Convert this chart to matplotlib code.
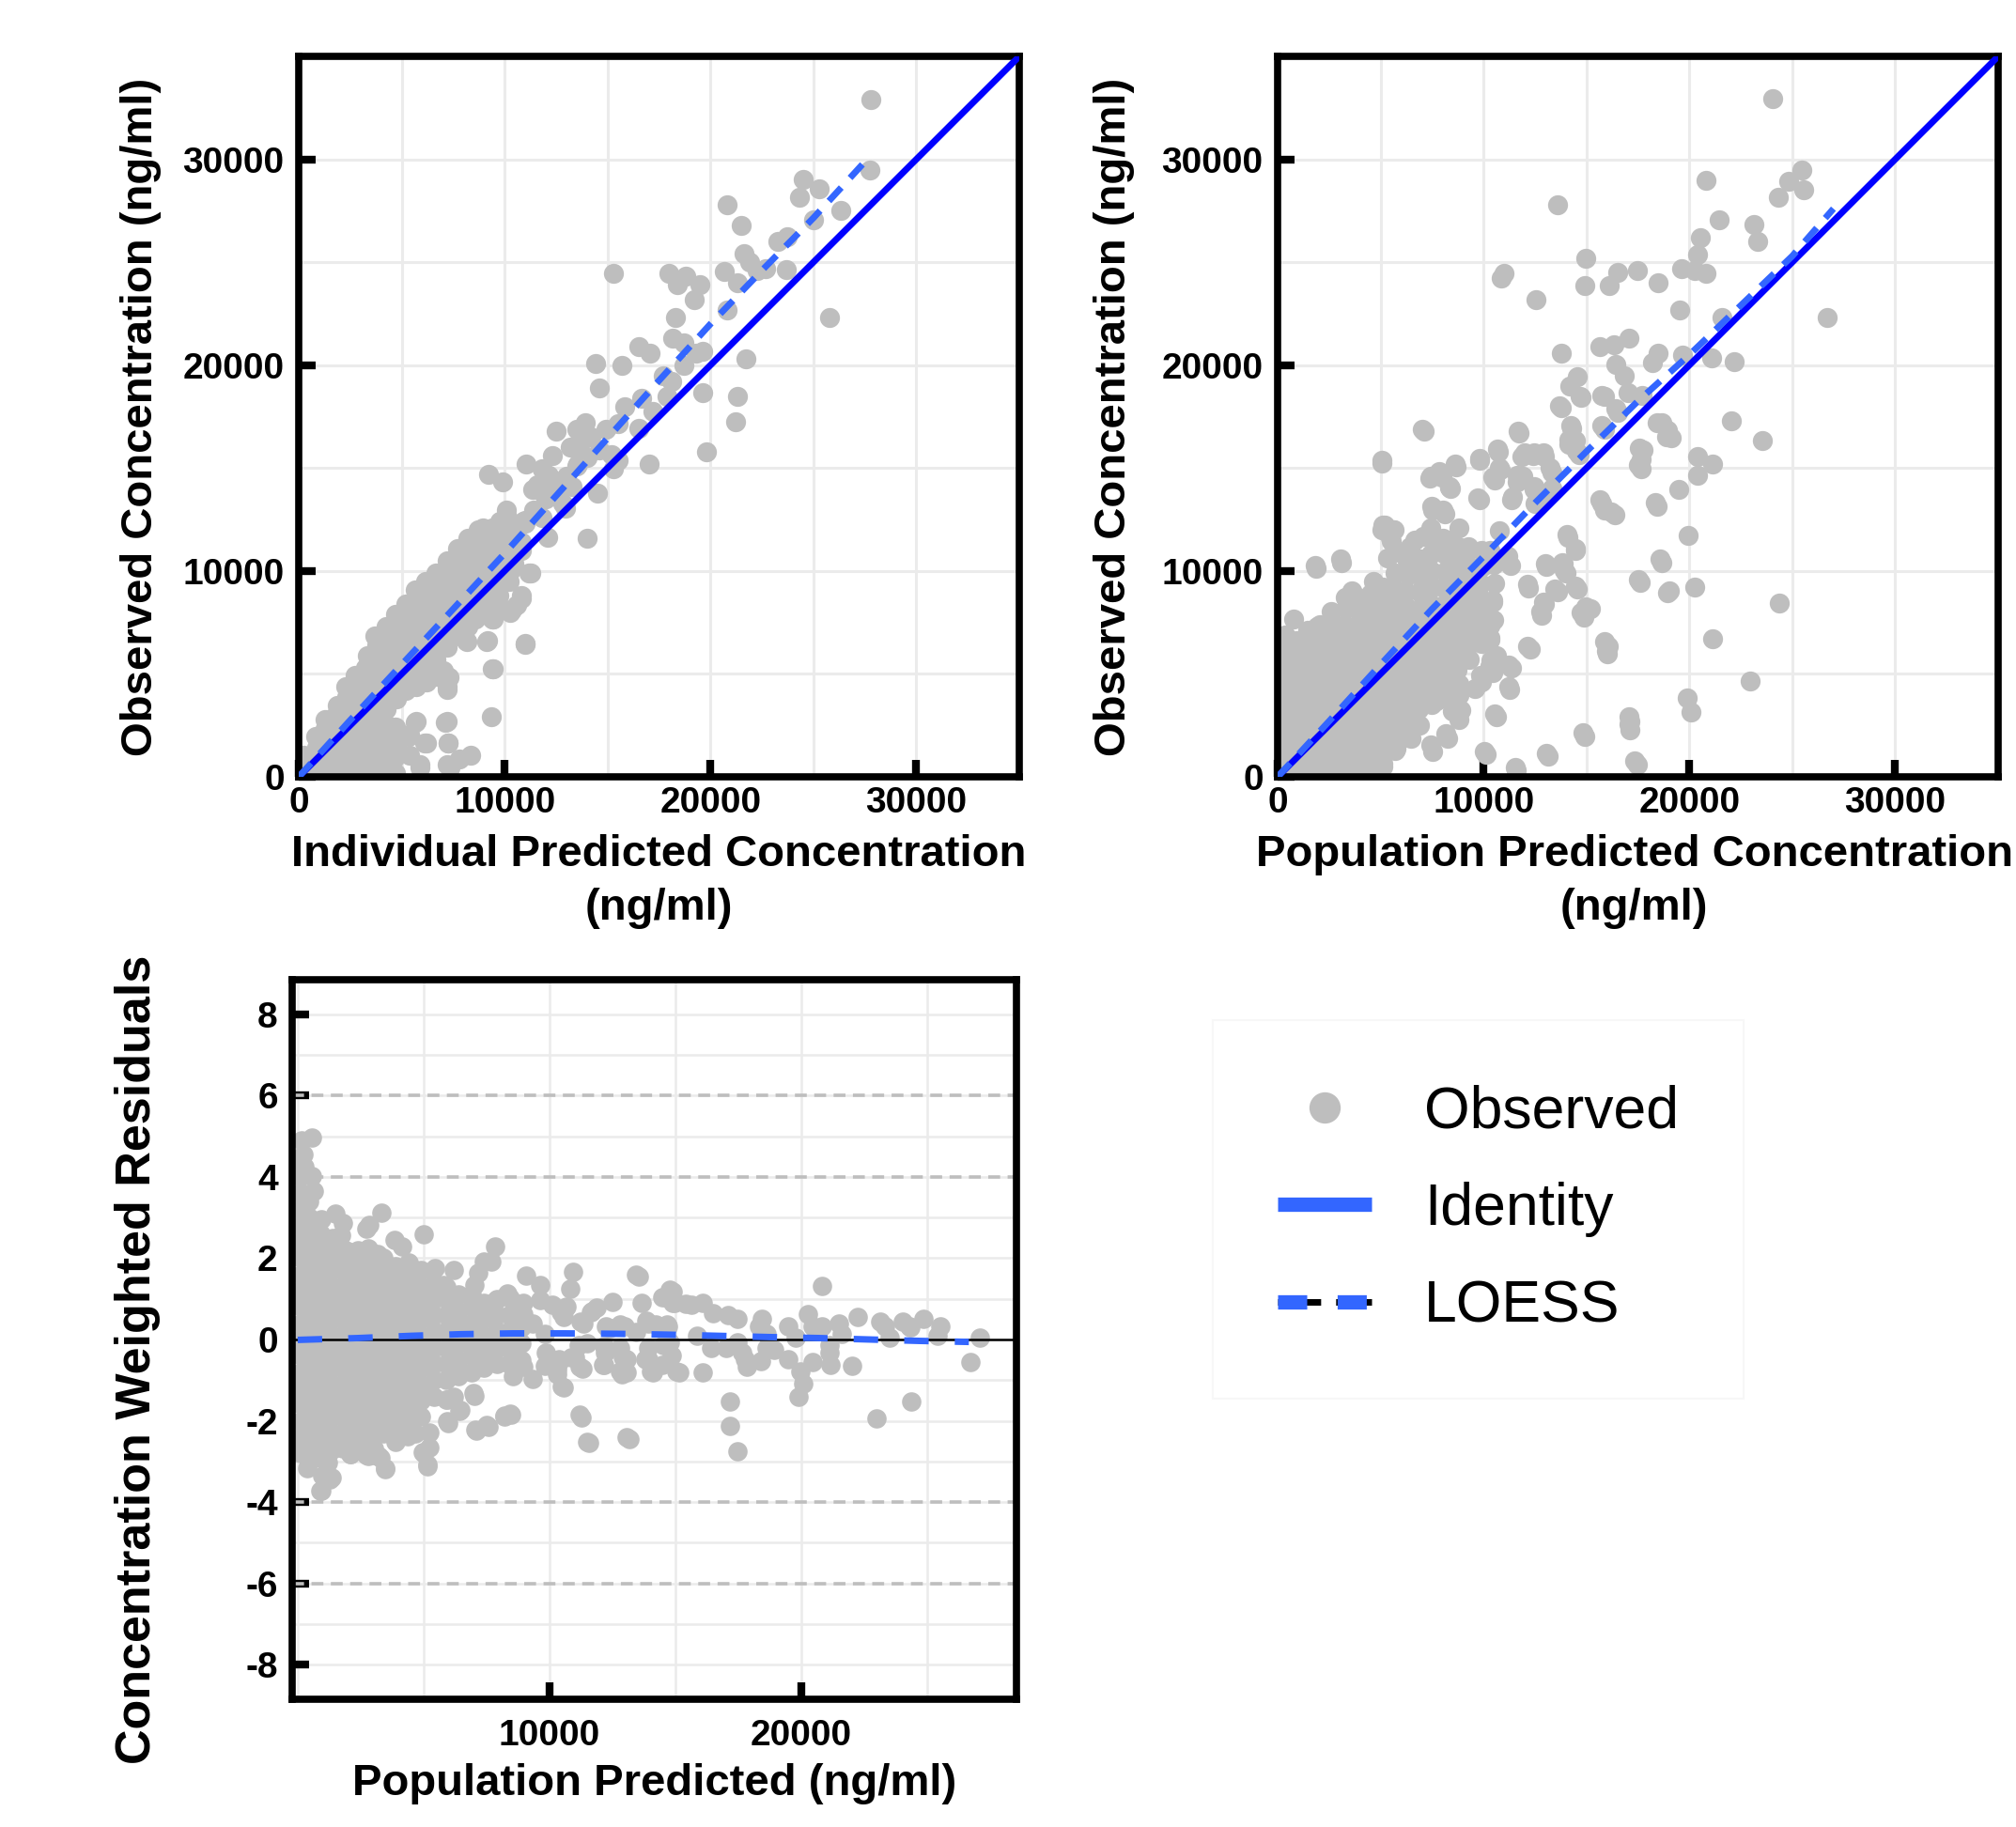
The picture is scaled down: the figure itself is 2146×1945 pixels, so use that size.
import matplotlib
matplotlib.use("Agg")
import matplotlib.pyplot as plt
from matplotlib.lines import Line2D
from matplotlib.legend_handler import HandlerTuple
from matplotlib.ticker import MultipleLocator

plt.rcParams['font.family'] = ['Liberation Sans', 'DejaVu Sans']
plt.rcParams['font.weight'] = 'bold'
plt.rcParams['axes.unicode_minus'] = False

# ---------------- data ----------------
axis_range = [0, 35000]
conc_ticks = [0, 10000, 20000, 30000]

# panel 1: observed vs individual predicted (dense band along the diagonal)
ipred_band = [
    (100, 300), (300, 100), (350, 600), (250, 1050),
    (800, 200), (750, 800), (850, 1400), (800, 1950),
    (1300, 300), (1250, 1000), (1350, 1700), (1300, 2350), (1300, 2800),
    (1800, 150), (1750, 800), (1850, 1500), (1800, 2200), (1750, 2900), (1850, 3450),
    (2300, 400), (2250, 1100), (2350, 1800), (2300, 2500), (2250, 3200), (2350, 3900), (2300, 4400),
    (2800, 150), (2750, 800), (2850, 1500), (2800, 2200), (2750, 2900), (2850, 3600), (2800, 4300), (2750, 4950),
    (3300, 400), (3250, 1100), (3350, 1800), (3300, 2500), (3250, 3200), (3350, 3900), (3300, 4600), (3250, 5300), (3350, 5900),
    (3800, 150), (3750, 800), (3850, 1500), (3800, 2200), (3750, 2900), (3850, 3600), (3800, 4300), (3750, 5000), (3850, 5700), (3800, 6400), (3700, 6850),
    (4300, 400), (4250, 1100), (4350, 1800), (4300, 2500), (4250, 3300), (4350, 4000), (4300, 4700), (4250, 5400), (4350, 6100), (4300, 6800), (4250, 7300),
    (4700, 200), (4650, 900), (4750, 1600), (4700, 2400), (4750, 3800), (4650, 4500), (4750, 5200), (4700, 5900), (4650, 6600), (4750, 7300), (4700, 7900),
    (5200, 4200), (5150, 4900), (5250, 5600), (5200, 6300), (5150, 7000), (5250, 7700), (5200, 8400),
    (5700, 4400), (5650, 5100), (5750, 5800), (5700, 6500), (5650, 7200), (5750, 7900), (5700, 8600), (5650, 9100),
    (6200, 4600), (6150, 5300), (6250, 6000), (6200, 6700), (6150, 7400), (6250, 8100), (6200, 8800), (6150, 9500),
    (6700, 4900), (6650, 5700), (6750, 6400), (6700, 7100), (6650, 7800), (6750, 8500), (6700, 9200), (6650, 9900),
    (7200, 6300), (7150, 7000), (7250, 7700), (7200, 8400), (7150, 9100), (7250, 9800), (7200, 10500),
    (7700, 6900), (7650, 7600), (7750, 8300), (7700, 9000), (7650, 9700), (7750, 10400), (7700, 11100),
    (8200, 7300), (8150, 8000), (8250, 8700), (8200, 9400), (8150, 10100), (8250, 10800), (8200, 11600),
    (8700, 7800), (8650, 8500), (8750, 9200), (8700, 9900), (8650, 10600), (8750, 11300), (8700, 12000),
    (9200, 8300), (9150, 9000), (9250, 9700), (9200, 10400), (9150, 11100), (9250, 11800),
    (9700, 8800), (9650, 9500), (9750, 10200), (9700, 10900), (9650, 11600), (9750, 12400),
    (10200, 9500), (10150, 10300), (10250, 11000), (10200, 11800), (10150, 12600),
    (10500, 11800), (11000, 12300), (11500, 12900), (12000, 13500), (12500, 14000), (13000, 14600),
    (13500, 15100), (14000, 15500), (12800, 13300), (13300, 14100), (11800, 12600), (10800, 11000),
    (12200, 14300), (14600, 15900), (10900, 12400), (11600, 14200),
]
ipred_scatter = [
    (27800, 32900), (27750, 29500), (24500, 29000), (25300, 28550), (24300, 28150), (20800, 27800),
    (21500, 26800), (26350, 27500), (25000, 27050), (21650, 25400), (21900, 25000), (23250, 26000),
    (23750, 26250), (22250, 24600), (22700, 24700), (23700, 24650), (20650, 24550), (21300, 24000),
    (15300, 24470), (18000, 24470), (18800, 24300), (18400, 23900), (19500, 23900), (19200, 23200),
    (20800, 22700), (25800, 22300), (18300, 22300), (18150, 21300), (18700, 21060), (19300, 20600),
    (19600, 20650), (21700, 20300), (16500, 20900), (17050, 20600), (14400, 20100), (15700, 20000),
    (18700, 20000), (17700, 19500), (18100, 19200), (14600, 18900), (16650, 18400), (15850, 18000),
    (17900, 18500), (19600, 18650), (21300, 18500), (21200, 17250), (17200, 17750), (16500, 16950),
    (19800, 15800), (17000, 15200), (12500, 16800), (13500, 16900), (13900, 17200), (14900, 16900),
    (15500, 17150), (12300, 15600), (13200, 16000), (13650, 16100), (14200, 16500), (15200, 15650),
    (15500, 15400), (15300, 14950), (11050, 15200), (11800, 14950), (12150, 14650), (11350, 13950),
    (11900, 13750), (12600, 13750), (12950, 13050), (14500, 13800), (13550, 15200), (9200, 14700),
    (9900, 14350), (10100, 12950), (11000, 12450), (11400, 12950), (12100, 11650), (14000, 11600),
    (10800, 11400), (8950, 12100), (9400, 12100), (8250, 11450), (9900, 10700), (10450, 10350),
    (11250, 9900), (10250, 10000), (9500, 9050), (10800, 8800), (10600, 8350), (10350, 8100),
    (9950, 8100), (9400, 7650), (8470, 7650), (11000, 6470), (8100, 6600), (9150, 6600), (9400, 5250),
    (7200, 4240), (9350, 2940), (5700, 2700), (5400, 2050), (6200, 1650), (7200, 2700), (7250, 1650),
    (8350, 1060), (5900, 590), (7200, 590), (5400, 1060), (7300, 4820), (5640, 2650), (5330, 1950),
    (6100, 1640), (5870, 470), (7100, 2650), (7260, 1640), (7340, 470), (7800, 870), (9430, 5230),
    (8190, 6560), (9120, 6560), (11020, 6450), (11200, 9900), (10820, 8670), (10280, 7970),
    (9430, 7660), (8580, 7660), (7190, 4370), (7030, 5160),
]
ipred_loess_x = [0, 2500, 5000, 7500, 10000, 12500, 15000, 17500, 20000, 22500, 25000, 27700]
ipred_loess_y = [0, 2750, 5450, 8150, 10850, 13650, 16450, 19250, 22000, 24600, 27150, 30100]

# panel 2: observed vs population predicted
pred_band = [
    (300, 200), (250, 900), (350, 1600), (300, 2300), (250, 3000), (350, 3700), (300, 4400), (250, 5100), (350, 5800), (300, 6500),
    (900, 300), (850, 1000), (950, 1700), (900, 2400), (850, 3100), (950, 3800), (900, 4500), (850, 5200), (950, 5900), (900, 6600),
    (1500, 200), (1450, 900), (1550, 1600), (1500, 2300), (1450, 3000), (1550, 3700), (1500, 4400), (1450, 5100), (1550, 5800), (1500, 6500), (1450, 7100),
    (2100, 400), (2050, 1100), (2150, 1800), (2100, 2500), (2050, 3200), (2150, 3900), (2100, 4600), (2050, 5300), (2150, 6000), (2100, 6700), (2050, 7400),
    (2700, 200), (2650, 900), (2750, 1600), (2700, 2300), (2650, 3000), (2750, 3700), (2700, 4400), (2650, 5100), (2750, 5800), (2700, 6500), (2650, 7200),
    (3300, 400), (3250, 1100), (3350, 1800), (3300, 2500), (3250, 3200), (3350, 3900), (3300, 4600), (3250, 5300), (3350, 6000), (3300, 6700), (3250, 7400), (3350, 8200),
    (3900, 200), (3850, 900), (3950, 1600), (3900, 2300), (3850, 3000), (3950, 3700), (3900, 4400), (3850, 5100), (3950, 5800), (3900, 6500), (3850, 7200), (3950, 8000), (3900, 8700),
    (4500, 300), (4450, 1000), (4550, 1700), (4500, 2400), (4450, 3100), (4550, 3800), (4500, 4500), (4450, 5200), (4550, 5900), (4500, 6600), (4450, 7300), (4550, 8100), (4500, 8900),
    (5100, 500), (5050, 1300), (5150, 2000), (5100, 2700), (5050, 3400), (5150, 4100), (5100, 4800), (5050, 5500), (5150, 6200), (5100, 6900), (5050, 7600), (5150, 8400), (5100, 9200),
    (5700, 1300), (5650, 2000), (5750, 2700), (5700, 3400), (5650, 4100), (5750, 4800), (5700, 5500), (5650, 6200), (5750, 6900), (5700, 7600), (5650, 8300), (5750, 9100), (5700, 9900),
    (6300, 1900), (6250, 2600), (6350, 3300), (6300, 4000), (6250, 4700), (6350, 5400), (6300, 6100), (6250, 6800), (6350, 7500), (6300, 8200), (6250, 9000), (6350, 9800), (6300, 10500),
    (6900, 2500), (6850, 3300), (6950, 4000), (6900, 4700), (6850, 5400), (6950, 6100), (6900, 6800), (6850, 7500), (6950, 8200), (6900, 9000), (6850, 9800), (6950, 10600),
    (7500, 3500), (7450, 4200), (7550, 4900), (7500, 5600), (7450, 6300), (7550, 7000), (7500, 7700), (7450, 8400), (7550, 9200), (7500, 10000), (7450, 10800), (7550, 11500),
    (8100, 4100), (8050, 4800), (8150, 5500), (8100, 6300), (8050, 7000), (8150, 7700), (8100, 8400), (8050, 9200), (8150, 10000), (8100, 10800), (8050, 11600),
    (8700, 5200), (8650, 5900), (8750, 6600), (8700, 7300), (8650, 8000), (8750, 8800), (8700, 9600), (8650, 10400), (8750, 11200),
    (9300, 5700), (9250, 6400), (9350, 7100), (9300, 7800), (9250, 8600), (9350, 9400), (9300, 10200), (9250, 11000),
    (9900, 6500), (9850, 7200), (9950, 7900), (9900, 8600), (9850, 9400), (9950, 10200), (9900, 11000),
    (10500, 7600), (10450, 8500), (10550, 9400), (10500, 10300),
]
pred_scatter = [
    (24050, 32940), (25460, 29480), (24820, 28940), (25550, 28520), (24300, 28160), (20820, 28990),
    (13580, 27810), (21460, 27060), (23130, 26820), (23340, 26000), (20540, 26210), (20400, 25360),
    (14990, 25180), (10990, 24470), (10870, 24240), (16520, 24520), (16090, 23860), (17480, 24590),
    (14920, 23860), (18490, 24000), (19600, 24680), (20240, 24590), (20820, 24450), (12560, 23180),
    (19550, 22680), (26700, 22310), (21580, 22310), (13760, 20560), (15670, 20890), (16330, 21010),
    (17080, 21290), (18190, 20120), (18470, 20590), (19690, 20470), (21060, 20350), (22190, 20160),
    (16450, 20050), (16820, 19480), (14540, 19460), (14190, 18990), (14750, 18420), (15880, 18490),
    (17010, 18660), (17720, 18540), (13760, 17950), (16540, 17720), (15880, 16870), (14280, 16920),
    (14470, 16350), (14160, 16160), (18660, 17220), (18960, 16820), (19130, 16470), (22020, 17290),
    (23530, 16350), (11720, 16710), (10730, 15810), (7110, 16780), (5060, 15250), (11880, 15580),
    (12400, 15600), (12970, 15580), (13340, 14780), (14660, 15650), (17760, 15880), (17650, 15410),
    (17650, 14990), (20400, 15580), (20420, 14640), (21150, 15180), (19480, 13950), (9810, 15360),
    (8680, 15040), (7410, 14520), (7980, 14560), (8350, 14050), (10540, 14400), (10800, 14940),
    (11650, 14350), (11910, 14610), (12470, 13950), (13340, 14000), (9790, 13440), (11340, 13460),
    (12520, 13290), (15740, 13290), (15880, 12940), (16400, 12750), (18420, 13130), (19950, 11720),
    (14120, 11650), (14470, 10990), (18660, 10400), (13060, 10240), (13880, 10350), (14000, 9880),
    (12190, 9180), (13580, 9010), (14540, 9130), (17600, 9440), (18960, 8940), (20280, 9220),
    (24350, 8450), (12940, 8400), (12820, 7840), (15180, 8160), (14870, 7740), (21130, 6710),
    (12260, 6190), (16070, 6350), (16000, 6000), (22940, 4660), (19880, 3840), (20090, 3130),
    (17130, 2710), (17130, 2280), (14940, 1950), (10610, 2940), (10120, 1110), (13130, 990),
    (11600, 310), (17480, 590), (11340, 5290), (11290, 4240), (10380, 5650), (9880, 4590),
    (10640, 5880), (10330, 6640), (9130, 6350), (8820, 4540), (8470, 3180), (8890, 3220),
    (8280, 1880), (7530, 1250), (1880, 10120), (3110, 10420), (5060, 11990), (5180, 12240),
    (5620, 12000), (5530, 11460), (7080, 11690), (7510, 12940), (8120, 12780), (8400, 14000),
    (7030, 16870), (5050, 15380), (8610, 15180), (9790, 15490), (10700, 15920), (11670, 16800),
    (12000, 15760), (12460, 15760), (12920, 15730), (13690, 18030), (14220, 17060), (14140, 16380),
    (14530, 15840), (14680, 18490), (15750, 18520), (16440, 17900), (15750, 17060), (18430, 17220),
    (17580, 15990), (17510, 15150), (18880, 16530), (13230, 15000), (7420, 14620), (7870, 14850),
    (8330, 14080), (10780, 15000), (10470, 14540), (11620, 14660), (12460, 14080), (12770, 13620),
    (11390, 13620), (9710, 13550), (7490, 13160), (8030, 12940), (15670, 13470), (16210, 12860),
    (18350, 13320), (5120, 12250), (5660, 12020), (5460, 11640), (6420, 11180), (5350, 10640),
    (3060, 10570), (1830, 10260), (14070, 11790), (14450, 11100), (13000, 10340), (13840, 10410),
    (13910, 10030), (12160, 9340), (13460, 9110), (14450, 9270), (18580, 10570), (17510, 9570),
    (19040, 9040), (12920, 8500), (12770, 8040), (14990, 8270), (14760, 7970), (12160, 6360),
    (15900, 6590), (15980, 6130), (11240, 5440), (11240, 4370), (10550, 3070), (17050, 2920),
    (17050, 2540), (14830, 2160), (13070, 1160), (17350, 780), (10020, 1240), (11540, 470),
    (10320, 6740), (10320, 7350), (9860, 8270), (10470, 8580), (9710, 9040), (9560, 10110),
    (11320, 10260), (11160, 10720), (10780, 11940), (10320, 11020), (9250, 11180), (8790, 12090),
    (8330, 11480), (7420, 12090), (6650, 11480), (6040, 10870), (4660, 9500), (3590, 9040),
    (3290, 8730), (2600, 8040), (1910, 7280), (760, 7660), (380, 6900), (690, 5830), (1450, 5980),
    (9250, 6440), (10320, 5370), (10470, 5060), (9860, 4910), (9560, 4300), (8790, 3990),
    (8560, 3380), (7720, 3690), (8790, 2770), (8180, 2080), (7420, 1540), (6500, 1850),
    (5730, 1390), (5120, 630), (6040, 2610), (6730, 2460),
]
pred_loess_x = [0, 2500, 5000, 7500, 10000, 12500, 15000, 17500, 20000, 22500, 25000, 27000]
pred_loess_y = [0, 2700, 5450, 8150, 10700, 13300, 15800, 18250, 20500, 22900, 25300, 27600]

# panel 3: conditional weighted residuals vs population predicted
cwres_band = [
    (100, -2.8), (100, -2.4), (100, -2.0), (100, -1.6), (100, -1.2), (100, -0.8), (100, -0.4), (100, 0.0),
    (100, 0.4), (100, 0.8), (100, 1.2), (100, 1.6), (100, 2.0), (100, 2.4), (100, 2.8), (100, 3.2),
    (100, 3.6), (100, 4.0), (100, 4.4),
    (275, -2.6), (275, -2.0), (275, -1.4), (275, -0.8), (275, -0.2), (275, 0.4), (275, 1.0), (275, 1.6),
    (275, 2.2), (275, 2.8), (275, 3.4),
    (450, -3.0), (450, -2.6), (450, -2.2), (450, -1.8), (450, -1.4), (450, -1.0), (450, -0.6), (450, -0.2),
    (450, 0.2), (450, 0.6), (450, 1.0), (450, 1.4), (450, 1.8), (450, 2.2), (450, 2.6), (450, 3.0), (450, 3.4),
    (675, -2.8), (675, -2.2), (675, -1.6), (675, -1.0), (675, -0.4), (675, 0.2), (675, 0.8), (675, 1.4),
    (675, 2.0), (675, 2.6),
    (900, -2.9), (900, -2.5), (900, -2.1), (900, -1.7), (900, -1.3), (900, -0.9), (900, -0.5), (900, -0.1),
    (900, 0.3), (900, 0.7), (900, 1.1), (900, 1.5), (900, 1.9), (900, 2.3), (900, 2.6),
    (1150, -2.5), (1150, -1.9), (1150, -1.3), (1150, -0.7), (1150, -0.1), (1150, 0.5), (1150, 1.1),
    (1150, 1.7), (1150, 2.3),
    (1400, -2.7), (1400, -2.3), (1400, -1.9), (1400, -1.5), (1400, -1.1), (1400, -0.7), (1400, -0.3),
    (1400, 0.1), (1400, 0.5), (1400, 0.9), (1400, 1.3), (1400, 1.7), (1400, 2.1), (1400, 2.5),
    (1650, -2.4), (1650, -1.8), (1650, -1.2), (1650, -0.6), (1650, 0.0), (1650, 0.6), (1650, 1.2),
    (1650, 1.8), (1650, 2.3),
    (1900, -2.6), (1900, -2.2), (1900, -1.8), (1900, -1.4), (1900, -1.0), (1900, -0.6), (1900, -0.2),
    (1900, 0.2), (1900, 0.6), (1900, 1.0), (1900, 1.4), (1900, 1.8), (1900, 2.2),
    (2150, -2.3), (2150, -1.7), (2150, -1.1), (2150, -0.5), (2150, 0.1), (2150, 0.7), (2150, 1.3), (2150, 1.9),
    (2400, -2.5), (2400, -2.1), (2400, -1.7), (2400, -1.3), (2400, -0.9), (2400, -0.5), (2400, -0.1),
    (2400, 0.3), (2400, 0.7), (2400, 1.1), (2400, 1.5), (2400, 1.9), (2400, 2.2),
    (2650, -2.2), (2650, -1.6), (2650, -1.0), (2650, -0.4), (2650, 0.2), (2650, 0.8), (2650, 1.4), (2650, 1.9),
    (2900, -2.4), (2900, -2.0), (2900, -1.6), (2900, -1.2), (2900, -0.8), (2900, -0.4), (2900, 0.0),
    (2900, 0.4), (2900, 0.8), (2900, 1.2), (2900, 1.6), (2900, 2.0),
    (3150, -2.1), (3150, -1.5), (3150, -0.9), (3150, -0.3), (3150, 0.3), (3150, 0.9), (3150, 1.5), (3150, 1.9),
    (3400, -2.3), (3400, -1.9), (3400, -1.5), (3400, -1.1), (3400, -0.7), (3400, -0.3), (3400, 0.1),
    (3400, 0.5), (3400, 0.9), (3400, 1.3), (3400, 1.7), (3400, 2.0),
    (3650, -2.0), (3650, -1.4), (3650, -0.8), (3650, -0.2), (3650, 0.4), (3650, 1.0), (3650, 1.6),
    (3900, -2.2), (3900, -1.8), (3900, -1.4), (3900, -1.0), (3900, -0.6), (3900, -0.2), (3900, 0.2),
    (3900, 0.6), (3900, 1.0), (3900, 1.4), (3900, 1.8),
    (4150, -1.9), (4150, -1.3), (4150, -0.7), (4150, -0.1), (4150, 0.5), (4150, 1.1), (4150, 1.7),
    (4400, -2.1), (4400, -1.7), (4400, -1.3), (4400, -0.9), (4400, -0.5), (4400, -0.1), (4400, 0.3),
    (4400, 0.7), (4400, 1.1), (4400, 1.5), (4400, 1.9),
    (4650, -1.7), (4650, -1.1), (4650, -0.5), (4650, 0.1), (4650, 0.7), (4650, 1.3), (4650, 1.7),
    (4900, -1.9), (4900, -1.5), (4900, -1.1), (4900, -0.7), (4900, -0.3), (4900, 0.1), (4900, 0.5),
    (4900, 0.9), (4900, 1.3), (4900, 1.7),
    (5150, -1.2), (5150, -0.6), (5150, 0.0), (5150, 0.6), (5150, 1.2),
    (5400, -1.4), (5400, -1.0), (5400, -0.6), (5400, -0.2), (5400, 0.2), (5400, 0.6), (5400, 1.0), (5400, 1.4),
    (5900, -1.0), (5900, -0.6), (5900, -0.2), (5900, 0.2), (5900, 0.6), (5900, 1.0), (5900, 1.3),
    (6400, -0.9), (6400, -0.5), (6400, -0.1), (6400, 0.3), (6400, 0.7), (6400, 1.1),
    (6900, -0.8), (6900, -0.4), (6900, 0.0), (6900, 0.4), (6900, 0.8), (6900, 1.1),
    (7400, -0.7), (7400, -0.3), (7400, 0.1), (7400, 0.5), (7400, 0.9),
    (7900, -0.6), (7900, -0.2), (7900, 0.2), (7900, 0.6), (7900, 1.0),
    (8400, -0.6), (8400, -0.2), (8400, 0.2), (8400, 0.6),
    (8900, -0.5), (8900, -0.1), (8900, 0.3), (8900, 0.7),
]
cwres_scatter = [
    (550, 4.97), (170, 4.91), (240, 4.56), (260, 4.25), (550, 4.02), (630, 3.66), (1480, 3.1), (1790, 2.87),
    (1730, 2.56), (920, 2.95), (2720, 2.72), (2850, 2.83), (3310, 3.12), (2790, 2.24), (3160, 2.1),
    (3840, 2.45), (4150, 2.29), (5000, 2.58), (2040, 2.14), (1230, 2.33), (7820, 2.29), (7700, 1.91),
    (7390, 1.91), (7180, 1.64), (7010, 1.33), (6210, 1.72), (5460, 1.75), (5770, 1.33), (9070, 1.58),
    (9630, 1.33), (9630, 0.98), (8320, 1.14), (8940, 0.91), (7890, 0.98), (8450, 1.02), (10930, 1.66),
    (10810, 1.25), (10620, 0.79), (10440, 0.68), (11240, 0.45), (11680, 0.69), (11870, 0.79),
    (12490, 0.92), (12240, 0.33), (12800, 0.37), (13420, 1.6), (13670, 0.91), (13860, 0.46),
    (14230, 0.37), (14480, 1.05), (14790, 1.22), (14890, 0.91), (14660, 0.37), (15410, 0.87),
    (9810, -0.65), (10310, -0.75), (10500, -1.15), (10370, -0.48), (10990, -0.44), (11180, -0.67),
    (11490, -0.09), (12110, -0.62), (12180, -0.17), (12800, -0.78), (12920, -0.44), (13050, -0.82),
    (13790, -0.48), (14040, -0.78), (14480, -0.63), (14850, -0.4), (15040, -0.78), (11210, -1.86),
    (11490, -2.52), (13050, -2.4), (8450, -1.82), (8200, -1.9), (7510, -2.11), (7050, -2.21),
    (6990, -1.32), (6420, -1.75), (5900, -1.49), (6210, -1.4), (5920, -2.02), (5150, -3.08),
    (4960, -2.78), (5210, -2.28), (4650, -2.32), (4340, -2.36), (3840, -2.4), (3470, -3.17),
    (3220, -2.86), (3030, -2.67), (2790, -2.86), (2850, -2.25), (2410, -1.94), (2100, -2.82),
    (1790, -2.67), (1360, -3.4), (980, -3.36), (920, -3.71), (1170, -2.98), (360, -3.17), (300, -2.78),
    (490, -2.48), (10100, 0.86), (10570, 0.56), (10670, 0.8), (11340, 0.39), (11630, 0.68),
    (12390, 0.27), (12970, 0.33), (13450, 0.18), (13930, 0.39), (14310, 0.33), (14690, 0.33),
    (14790, -0.08), (14500, -0.14), (13930, -0.2), (12780, -0.2), (12200, -0.32), (11150, -0.14),
    (10860, -0.44), (10380, -0.55), (9870, -0.32), (9810, 0.15), (9330, 0.39), (8950, 0.62),
    (8370, -0.2), (8560, -0.44), (8950, -0.67), (9330, -0.96), (8560, -0.9), (15840, 0.09),
    (16420, -0.2), (17000, -0.2), (17470, -0.08), (17660, -0.32), (17760, -0.49), (18330, 0.33),
    (18430, 0.51), (18620, 0.15), (18620, -0.2), (18910, -0.26), (19480, 0.33), (19770, 0.04),
    (20250, 0.62), (20440, 0.33), (20820, 0.33), (21110, -0.14), (21110, -0.32), (21490, 0.39),
    (21590, 0.13), (23310, 0.33), (23510, 0.04), (24270, 0.33), (25420, 0.09), (16510, 0.65),
    (17090, 0.6), (17470, 0.51), (13540, 1.55), (14890, 1.19), (14600, 1.04), (14980, 0.89),
    (15650, 0.86), (16090, 0.89), (20820, 1.32), (22220, 0.56), (23120, 0.45), (24040, 0.45),
    (24850, 0.51), (24330, 0.31), (25520, 0.32), (27090, 0.05), (26720, -0.55), (24370, -1.53),
    (22990, -1.93), (22030, -0.65), (21170, -0.62), (20440, -0.55), (19900, -1.41), (20060, -1.08),
    (19960, -0.79), (19480, -0.49), (18390, -0.52), (17850, -0.67), (17150, -1.53), (17150, -2.12),
    (17450, -2.75), (16070, -0.82), (15130, -0.82), (14120, -0.82), (12870, -0.85), (12160, -0.62),
    (13070, -0.49), (13930, -0.49), (11300, -0.71), (10570, -1.18), (10290, -0.85), (11280, -1.91),
    (11570, -2.55), (13160, -2.45), (8470, -1.85), (8220, -1.87), (7570, -2.14), (7090, -2.24),
    (7030, -1.38), (6460, -1.73), (5980, -2.05), (5920, -1.49), (5170, -3.11), (5020, -2.79),
    (5210, -2.65), (3490, -3.2), (3010, -2.85), (3300, -2.9), (2720, -2.85), (1280, -3.44),
    (900, -3.73), (1050, -3.35), (1190, -3.02), (2110, -2.82), (3870, -2.52), (4350, -2.38),
]
cwres_loess_x = [0, 2400, 4500, 6500, 8550, 10600, 12600, 14600, 16700, 18700, 20700, 22700, 24700, 26650]
cwres_loess_y = [-0.01, 0.035, 0.09, 0.13, 0.15, 0.15, 0.14, 0.12, 0.09, 0.06, 0.035, 0.0, -0.035, -0.06]
cwres_ticks = [-8, -6, -4, -2, 0, 2, 4, 6, 8]
cwres_ref = [-6, -4, 4, 6]
cwres_xticks = [10000, 20000]

legend_labels = ['Observed', 'Identity', 'LOESS']

# ---------------- styling ----------------
GREY = '#BEBEBE'
BLUE = '#0000FF'
LBLUE = '#3366FF'
W, H = 2146, 1945
DOT = 235

fig = plt.figure(figsize=(W / 100, H / 100), dpi=100)
ax1 = fig.add_axes([318 / W, 1 - 827 / H, 767 / W, 767 / H])
ax2 = fig.add_axes([1360 / W, 1 - 827 / H, 767 / W, 767 / H])
ax3 = fig.add_axes([311 / W, 1 - 1809 / H, 771 / W, 766 / H])


def style(ax, xpad, ypad, size):
    for s in ax.spines.values():
        s.set_linewidth(5.5)
    ax.tick_params(which='major', direction='in', length=13, width=6, labelsize=size)
    ax.tick_params(axis='x', pad=xpad)
    ax.tick_params(axis='y', pad=ypad)
    ax.tick_params(which='minor', length=0)
    ax.set_axisbelow(True)


def split(pairs):
    return [p[0] for p in pairs], [p[1] for p in pairs]


def conc_panel(ax, band, scatter, lx, ly, xlabel):
    for pts in (band, scatter):
        x, y = split(pts)
        ax.scatter(x, y, s=DOT, color=GREY, lw=0, zorder=2)
    ax.plot(axis_range, axis_range, color=BLUE, lw=5, zorder=3, solid_capstyle='butt')
    ax.plot(lx, ly, color=LBLUE, lw=5, ls=(0, (2.8, 2.0)), zorder=4)
    ax.set_xlim(axis_range)
    ax.set_ylim(axis_range)
    ax.set_xticks(conc_ticks)
    ax.set_yticks(conc_ticks)
    ax.xaxis.set_minor_locator(MultipleLocator(5000))
    ax.yaxis.set_minor_locator(MultipleLocator(5000))
    ax.grid(which='both', color='#EBEBEB', lw=2.2)
    style(ax, 7, 11, 28)
    ax.set_xlabel(xlabel, fontsize=34, fontweight='bold', linespacing=1.4)
    ax.set_ylabel('Observed Concentration (ng/ml)', fontsize=34, fontweight='bold')
    ax.xaxis.set_label_coords(0.5, -0.079)
    ax.yaxis.set_label_coords(-0.19, 0.5)


conc_panel(ax1, ipred_band, ipred_scatter, ipred_loess_x, ipred_loess_y,
           'Individual Predicted Concentration\n(ng/ml)')
conc_panel(ax2, pred_band, pred_scatter, pred_loess_x, pred_loess_y,
           'Population Predicted Concentration\n(ng/ml)')
ax2.xaxis.set_label_coords(0.495, -0.079)
ax2.yaxis.set_label_coords(-0.198, 0.5)

# residual panel
for pts in (cwres_band, cwres_scatter):
    x, y = split(pts)
    ax3.scatter(x, y, s=DOT - 15, color=GREY, lw=0, zorder=2)
for lvl in cwres_ref:
    ax3.axhline(lvl, color=GREY, lw=2.6, ls=(0, (3.5, 2.2)), zorder=1.5)
ax3.axhline(0, color='black', lw=1.8, zorder=3)
ax3.plot(cwres_loess_x, cwres_loess_y, color=LBLUE, lw=5, ls=(0, (3.75, 4.0)), zorder=4)
ax3.set_xlim(-220, 28540)
ax3.set_ylim(-8.85, 8.85)
ax3.set_xticks(cwres_xticks)
ax3.set_yticks(cwres_ticks)
ax3.xaxis.set_minor_locator(MultipleLocator(5000))
ax3.yaxis.set_minor_locator(MultipleLocator(1))
ax3.grid(which='both', color='#EBEBEB', lw=1.8)
style(ax3, 15, 11, 28)
ax3.set_xlabel('Population Predicted (ng/ml)', fontsize=34, fontweight='bold')
ax3.set_ylabel('Concentration Weighted Residuals', fontsize=37.5, fontweight='bold')
ax3.xaxis.set_label_coords(0.5, -0.089)
ax3.yaxis.set_label_coords(-0.182, 0.472)

# legend (LOESS key: blue dashes over a thinner black dashed line)
loess_black = Line2D([], [], color='black', lw=5)
loess_black.set_dashes([6.6, 2.3])
loess_blue = Line2D([], [], color=LBLUE, lw=11)
loess_blue.set_dashes([2.03, 2.12])
handles = [
    Line2D([], [], ls='none', marker='o', ms=24, mfc=GREY, mec='none'),
    Line2D([], [], color=LBLUE, lw=11, solid_capstyle='butt'),
    (loess_black, loess_blue),
]
leg = fig.legend(handles, legend_labels, handler_map={tuple: HandlerTuple(ndivide=1, pad=0)},
                 loc='upper left', bbox_to_anchor=(1291 / W, 1 - 1086 / H), borderaxespad=0,
                 prop={'family': ['Liberation Sans', 'DejaVu Sans'], 'weight': 'normal', 'size': 45},
                 handlelength=1.6, handletextpad=0.9, labelspacing=0.71, borderpad=1.1,
                 frameon=True, fancybox=False, framealpha=1, edgecolor='#F7F7F7')
leg.get_frame().set_linewidth(1.5)

fig.savefig('out.png', dpi=100, facecolor='white')
